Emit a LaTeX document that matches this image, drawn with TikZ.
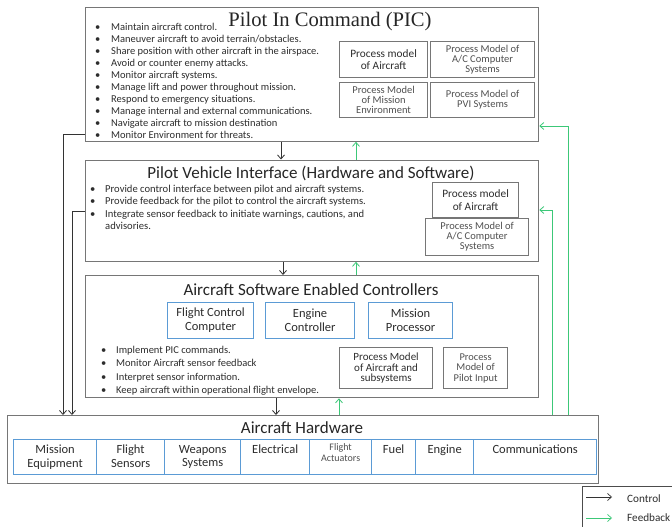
\documentclass[tikz,border=0pt]{standalone}
\usepackage{fontspec}
\setmainfont{Carlito}
\newfontfamily\titleserif{Liberation Serif}
\usetikzlibrary{arrows.meta,calc}
\definecolor{boxgray}{RGB}{118,118,118}
\definecolor{boxblue}{RGB}{91,155,213}
\definecolor{fbgreen}{RGB}{60,200,120}
\definecolor{txt}{RGB}{45,45,45}
\definecolor{txtlight}{RGB}{80,80,80}
\newcommand{\fsz}[2]{\fontsize{#1}{#2}\selectfont}

\tikzset{
  frame/.style={draw=boxgray, line width=1.3pt, anchor=north west, inner sep=0pt},
  pmbox/.style={draw=boxgray, line width=1.2pt, anchor=north west, inner sep=0pt, align=center, text=txtlight},
  bluebox/.style={draw=boxblue, line width=1.2pt, anchor=north west, inner sep=0pt, align=center, text=txt},
  cell/.style={draw=boxblue, line width=1.3pt, anchor=north west, inner sep=0pt},
  celltext/.style={anchor=north, inner sep=0pt, align=center, text=txt},
  ctrl/.style={draw=black!80, line width=0.8pt, -{Straight Barb[length=4pt,width=7pt]}},
  fb/.style={draw=fbgreen, line width=0.8pt, -{Straight Barb[length=4pt,width=7pt]}},
  heading/.style={anchor=base, inner sep=0pt, text=black!85},
  bullets/.style={anchor=north west, inner sep=0pt, text=txt, align=left},
}

\begin{document}
\begin{tikzpicture}[x=1pt,y=-1pt]
\useasboundingbox (0,0) rectangle (672,527);
\fill[white] (0,0) rectangle (672,527);
\clip (0,0) rectangle (672,527);

% ---------- Pilot In Command ----------
\node[frame, minimum width=453pt, minimum height=133.5pt] (pic) at (85,7) {};
\node[heading, font=\titleserif\fsz{20.6}{22}] (pictitle) at (330,27) {Pilot In Command (PIC)};
\node[bullets, font=\fsz{10.5}{12}] (piclist) at (95,22) {%
  \begin{tabular}{@{}p{16pt}@{}l@{}}
  \textbullet & Maintain aircraft control.\\
  \textbullet & Maneuver aircraft to avoid terrain/obstacles.\\
  \textbullet & Share position with other aircraft in the airspace.\\
  \textbullet & Avoid or counter enemy attacks.\\
  \textbullet & Monitor aircraft systems.\\
  \textbullet & Manage lift and power throughout mission.\\
  \textbullet & Respond to emergency situations.\\
  \textbullet & Manage internal and external communications.\\
  \textbullet & Navigate aircraft to mission destination\\
  \textbullet & Monitor Environment for threats.
  \end{tabular}};
\node[pmbox, minimum width=88pt, minimum height=36pt, text=txt, font=\fsz{11.3}{11.5}] (picpm1) at (339,41) {Process model\\of Aircraft};
\node[pmbox, minimum width=104pt, minimum height=36pt, font=\fsz{10.5}{10}] (picpm2) at (430,41) {Process Model of\\A/C Computer\\Systems};
\node[pmbox, minimum width=88pt, minimum height=35pt, font=\fsz{10.5}{10}] (picpm3) at (339,82) {Process Model\\of Mission\\Environment};
\node[pmbox, minimum width=104pt, minimum height=35pt, font=\fsz{10.5}{10}] (picpm4) at (430,82) {Process Model of\\PVI Systems};

% ---------- Pilot Vehicle Interface ----------
\node[frame, minimum width=453pt, minimum height=101pt] (pvi) at (85,159.5) {};
\node[heading, font=\fsz{17}{20}] (pvititle) at (311,178) {Pilot Vehicle Interface (Hardware and Software)};
\node[bullets, font=\fsz{10.6}{12.2}] (pvilist) at (90,184) {%
  \begin{tabular}{@{}p{15pt}@{}l@{}}
  \textbullet & Provide control interface between pilot and aircraft systems.\\
  \textbullet & Provide feedback for the pilot to control the aircraft systems.\\
  \textbullet & Integrate sensor feedback to initiate warnings, cautions, and\\
              & advisories.
  \end{tabular}};
\node[pmbox, minimum width=86pt, minimum height=35pt, text=txt, font=\fsz{11.3}{13.5}] (pvipm1) at (432,182) {Process model\\of Aircraft};
\node[pmbox, minimum width=103pt, minimum height=37pt, font=\fsz{10.5}{10}] (pvipm2) at (425,218) {Process Model of\\A/C Computer\\Systems};

% ---------- Aircraft Software Enabled Controllers ----------
\node[frame, minimum width=453pt, minimum height=122pt] (asec) at (85,275) {};
\node[heading, font=\fsz{17}{20}] (asectitle) at (311,295) {Aircraft Software Enabled Controllers};
\node[bluebox, minimum width=86pt, minimum height=36pt, font=\fsz{12.5}{14}] (fcc) at (167,302) {Flight Control\\Computer};
\node[bluebox, minimum width=89pt, minimum height=36pt, font=\fsz{12.5}{14}] (engc) at (265,302) {Engine\\Controller};
\node[bluebox, minimum width=84pt, minimum height=36pt, font=\fsz{12.5}{14}] (mproc) at (368,302) {Mission\\Processor};
\node[bullets, font=\fsz{10.5}{13.4}] (aseclist) at (101,344) {%
  \begin{tabular}{@{}p{15pt}@{}l@{}}
  \textbullet & Implement PIC commands.\\
  \textbullet & Monitor Aircraft sensor feedback\\
  \textbullet & Interpret sensor information.\\
  \textbullet & Keep aircraft within operational flight envelope.
  \end{tabular}};
\node[pmbox, minimum width=93pt, minimum height=41pt, text=txt, font=\fsz{11}{10.5}] (asecpm1) at (339,347) {Process Model\\of Aircraft and\\subsystems};
\node[pmbox, minimum width=64pt, minimum height=41pt, font=\fsz{10.4}{10.5}] (asecpm2) at (443,347) {Process\\Model of\\Pilot Input};

% ---------- Aircraft Hardware ----------
\node[frame, minimum width=591pt, minimum height=68pt] (ah) at (7,415) {};
\node[heading, font=\fsz{17}{20}] (ahtitle) at (302,433) {Aircraft Hardware};
\node[cell, minimum width=83pt, minimum height=35pt] (hw1) at (13,439) {};
\node[cell, minimum width=68pt, minimum height=35pt] (hw2) at (96,439) {};
\node[cell, minimum width=76pt, minimum height=35pt] (hw3) at (164,439) {};
\node[cell, minimum width=69pt, minimum height=35pt] (hw4) at (240,439) {};
\node[cell, minimum width=62pt, minimum height=35pt] (hw5) at (309,439) {};
\node[cell, minimum width=44pt, minimum height=35pt] (hw6) at (371,439) {};
\node[cell, minimum width=58pt, minimum height=35pt] (hw7) at (415,439) {};
\node[cell, minimum width=123pt, minimum height=35pt] (hw8) at (473,439) {};
\node[celltext, font=\fsz{12.5}{13.5}] (hwt1) at ($(hw1.north)+(0,6)$) {Mission\\Equipment};
\node[celltext, font=\fsz{12.5}{13.5}] (hwt2) at ($(hw2.north)+(0,6)$) {Flight\\Sensors};
\node[celltext, font=\fsz{12.5}{13.5}] (hwt3) at ($(hw3.north)+(0,6)$) {Weapons\\Systems};
\node[celltext, font=\fsz{12.5}{13.5}] (hwt4) at ($(hw4.north)+(0,6)$) {Electrical};
\node[celltext, font=\fsz{10}{11.5}, text=txtlight] (hwt5) at ($(hw5.north)+(0,4)$) {Flight\\Actuators};
\node[celltext, font=\fsz{12.5}{13.5}] (hwt6) at ($(hw6.north)+(0,6)$) {Fuel};
\node[celltext, font=\fsz{12.5}{13.5}] (hwt7) at ($(hw7.north)+(0,6)$) {Engine};
\node[celltext, font=\fsz{12.5}{13.5}] (hwt8) at ($(hw8.north)+(0,6)$) {Communications};

% ---------- Control paths (downward) ----------
\draw[ctrl] (281,0 |- pic.south) -- (281,0 |- pvi.north);
\draw[ctrl] (283,0 |- pvi.south) -- (283,0 |- asec.north);
\draw[ctrl] (276,0 |- asec.south) -- (276,0 |- ah.north);
\draw[ctrl] (pic.west |- 0,134) -| (63,0 |- ah.north);
\draw[ctrl] (pvi.west |- 0,211) -| (72,0 |- ah.north);

% ---------- Feedback paths (upward) ----------
\draw[fb] (356,0 |- pvi.north) -- (356,0 |- pic.south);
\draw[fb] (356,0 |- asec.north) -- (356,0 |- pvi.south);
\draw[fb] (339,0 |- ah.north) -- (339,0 |- asec.south);
\draw[fb] (568,0 |- ah.north) |- (pic.east |- 0,126);
\draw[fb] (552,0 |- ah.north) |- (pvi.east |- 0,210);

% ---------- Legend ----------
\node[draw=black!70, line width=0.8pt, anchor=north west, minimum width=110pt, minimum height=55pt, inner sep=0pt] (legend) at (582,486) {};
\coordinate (lgc1) at ($(legend.north west)+(4,11)$);
\coordinate (lgc2) at ($(legend.north west)+(30,11)$);
\coordinate (lgf1) at ($(legend.north west)+(4,32)$);
\coordinate (lgf2) at ($(legend.north west)+(30,32)$);
\draw[ctrl, line width=0.7pt] (lgc1) -- (lgc2);
\draw[fb, line width=0.7pt] (lgf1) -- (lgf2);
\node[anchor=west, inner sep=0pt, text=txt, font=\fsz{11.2}{13}] (lgctext) at ($(legend.north west)+(45,13)$) {Control};
\node[anchor=west, inner sep=0pt, text=txt, font=\fsz{11.2}{13}] (lgftext) at ($(legend.north west)+(45,32)$) {Feedback};
\end{tikzpicture}
\end{document}
